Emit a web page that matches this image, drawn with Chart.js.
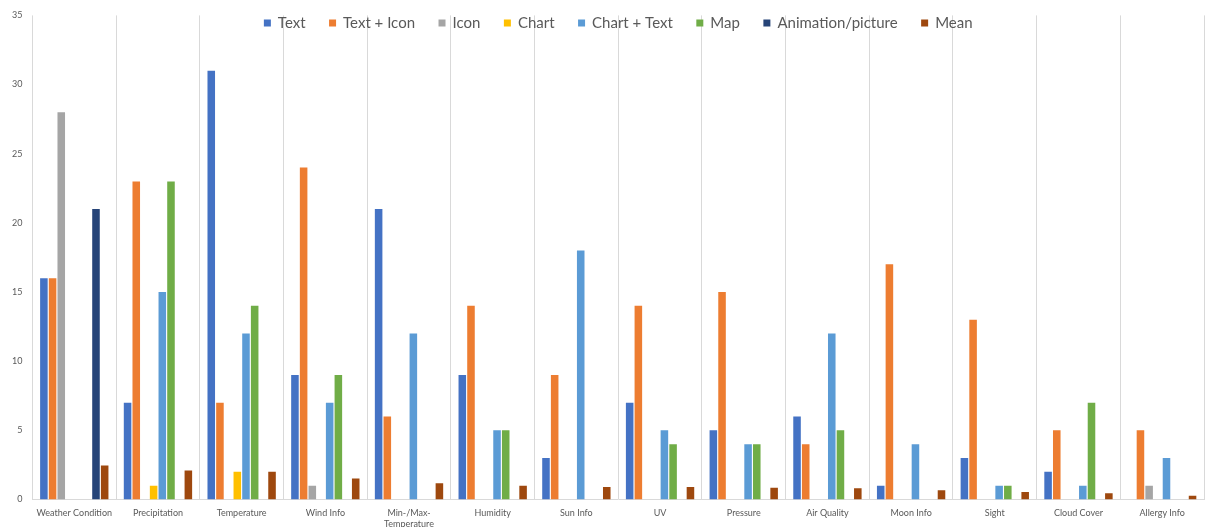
<!DOCTYPE html>
<html>
<head>
<meta charset="utf-8">
<script src="https://cdn.jsdelivr.net/npm/chart.js@4/dist/chart.umd.min.js"></script>
<style>
  html, body { margin: 0; padding: 0; background: #fff; }
  #wrap { width: 1205px; height: 527px; }
</style>
</head>
<body>
<div id="wrap"><canvas id="chart"></canvas></div>
<script>
// ===== Data =====
const categories = ['Weather Condition', 'Precipitation', 'Temperature', 'Wind Info', ['Min-/Max-', 'Temperature'],
  'Humidity', 'Sun Info', 'UV', 'Pressure', 'Air Quality', 'Moon Info', 'Sight', 'Cloud Cover', 'Allergy Info'];

const textVals      = [16, 7, 31, 9, 21, 9, 3, 7, 5, 6, 1, 3, 2, 0];
const textIconVals  = [16, 23, 7, 24, 6, 14, 9, 14, 15, 4, 17, 13, 5, 5];
const iconVals      = [28, 0, 0, 1, 0, 0, 0, 0, 0, 0, 0, 0, 0, 1];
const chartVals     = [0, 1, 2, 0, 0, 0, 0, 0, 0, 0, 0, 0, 0, 0];
const chartTextVals = [0, 15, 12, 7, 12, 5, 18, 5, 4, 12, 4, 1, 1, 3];
const mapVals       = [0, 23, 14, 9, 0, 5, 0, 4, 4, 5, 0, 1, 7, 0];
const animationVals = [21, 0, 0, 0, 0, 0, 0, 0, 0, 0, 0, 0, 0, 0];
const meanVals      = [2.45, 2.09, 2.0, 1.52, 1.18, 1.0, 0.91, 0.91, 0.85, 0.82, 0.67, 0.55, 0.45, 0.27];

const seriesNames = ['Text', 'Text + Icon', 'Icon', 'Chart', 'Chart + Text', 'Map', 'Animation/picture', 'Mean'];
const seriesColors = ['#4472C4', '#ED7D31', '#A5A5A5', '#FFC000', '#5B9BD5', '#70AD47', '#264478', '#9E480E'];
const seriesData = [textVals, textIconVals, iconVals, chartVals, chartTextVals, mapVals, animationVals, meanVals];

const yTicks = [0, 5, 10, 15, 20, 25, 30, 35];

const FONT = 'Lato';

// Legend sits inside the plot area on one row (like Excel), so draw it over the chart
const overlayLegend = {
  id: 'overlayLegend',
  afterDraw(chart) {
    const c = chart.ctx;
    const area = chart.chartArea;
    const box = 7, textGap = 7, itemGap = 23.5;
    c.save();
    c.font = '15px ' + FONT;
    c.textBaseline = 'middle';
    const items = chart.data.datasets.map(ds => ({
      label: ds.label, color: ds.backgroundColor, w: c.measureText(ds.label).width
    }));
    const total = items.reduce((s, it) => s + box + textGap + it.w, 0) + itemGap * (items.length - 1);
    let x = (area.left + area.right) / 2 - total / 2;
    const y = 23;
    items.forEach(it => {
      c.fillStyle = it.color;
      c.fillRect(x, y - box / 2, box, box);
      c.fillStyle = '#595959';
      c.fillText(it.label, x + box + textGap, y);
      x += box + textGap + it.w + itemGap;
    });
    c.restore();
  }
};

// ===== Chart setup =====
const ctx = document.getElementById('chart').getContext('2d');

const chart = new Chart(ctx, {
  type: 'bar',
  data: {
    labels: categories,
    datasets: seriesNames.map((name, i) => ({
      label: name,
      data: seriesData[i],
      backgroundColor: seriesColors[i],
      borderWidth: 0,
      categoryPercentage: 0.83,
      barPercentage: 0.87
    }))
  },
  options: {
    responsive: true,
    maintainAspectRatio: false,
    animation: false,
    layout: { padding: { left: 2, right: 1, top: 11, bottom: -11 } },
    plugins: {
      legend: { display: false },
      tooltip: { enabled: false }
    },
    scales: {
      x: {
        grid: { color: '#d9d9d9', drawTicks: false, offset: true },
        border: { color: '#d9d9d9' },
        ticks: {
          color: '#595959',
          font: { family: FONT, size: 9, lineHeight: 1.25 },
          padding: 8,
          maxRotation: 0,
          autoSkip: false
        }
      },
      y: {
        min: 0,
        max: 35,
        afterBuildTicks: axis => { axis.ticks = yTicks.map(v => ({ value: v })); },
        grid: { display: false, drawTicks: false },
        border: { display: false },
        ticks: {
          color: '#595959',
          font: { family: FONT, size: 9 },
          padding: 10
        }
      }
    }
  },
  plugins: [overlayLegend]
});
</script>
</body>
</html>
